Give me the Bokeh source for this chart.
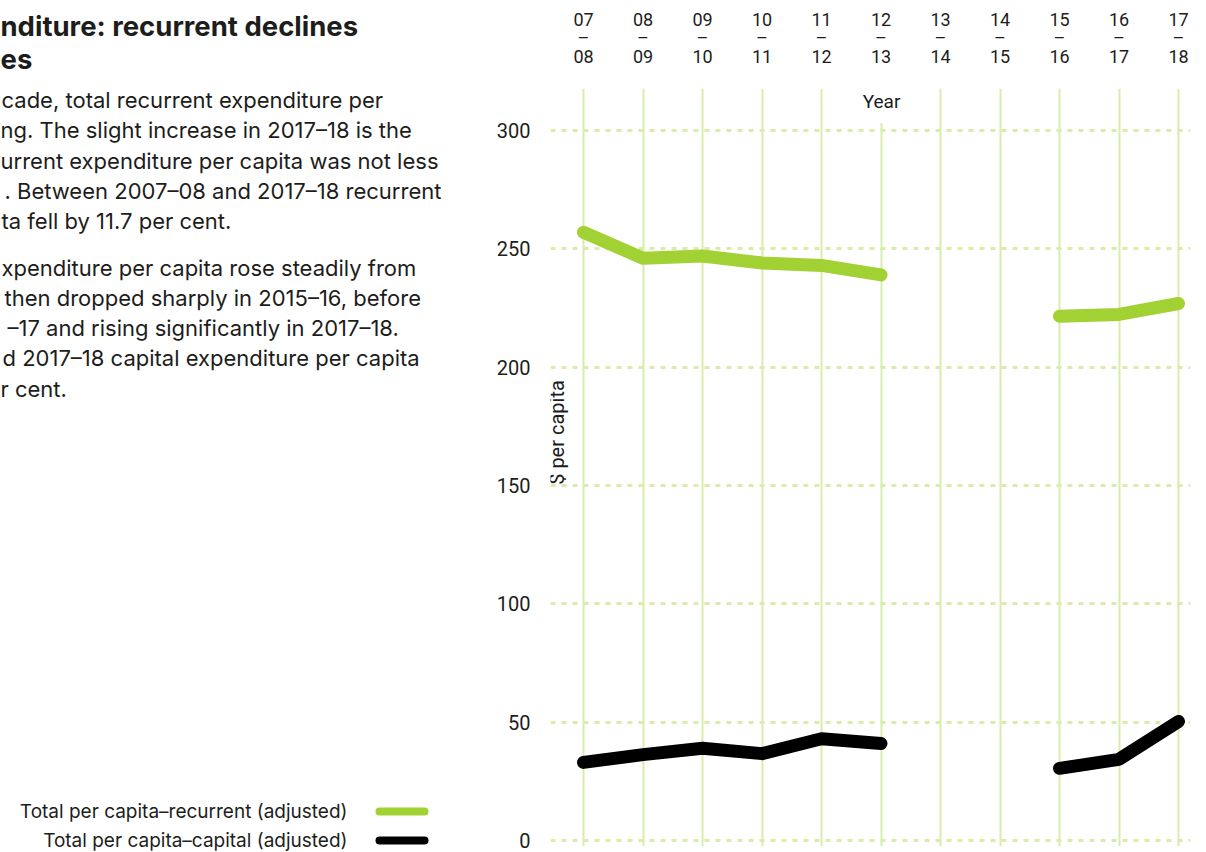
import math

import numpy as np
from bokeh.embed import file_html
from bokeh.layouts import row
from bokeh.models import ColumnDataSource, FixedTicker, Label, Range1d
from bokeh.plotting import figure
from bokeh.resources import INLINE

# ---- data -----------------------------------------------------------------
years = ["2007–08", "2008–09", "2009–10", "2010–11", "2011–12", "2012–13",
         "2013–14", "2014–15", "2015–16", "2016–17", "2017–18"]
# $ per capita; no figures were published for 2013–14 and 2014–15
recurrent = [257.0, 246.0, 247.0, 244.0, 243.0, 239.0,
             float("nan"), float("nan"), 221.5, 222.3, 226.9]
capital = [33.0, 36.3, 39.0, 36.7, 43.0, 41.0,
           float("nan"), float("nan"), 30.5, 34.3, 50.3]
y_ticks = [0, 50, 100, 150, 200, 250, 300]
year_tick_labels = [f"{y[2:4]}\n–\n{y[-2:]}" for y in years]
series_names = ["Total per capita–recurrent (adjusted)",
                "Total per capita–capital (adjusted)"]

heading = ["nditure: recurrent declines", "es"]
body = [
    "cade, total recurrent expenditure per",
    "ng. The slight increase in 2017–18 is the",
    "urrent expenditure per capita was not less",
    ". Between 2007–08 and 2017–18 recurrent",
    "ta fell by 11.7 per cent.",
    "xpenditure per capita rose steadily from",
    "then dropped sharply in 2015–16, before",
    "–17 and rising significantly in 2017–18.",
    "d 2017–18 capital expenditure per capita",
    "r cent.",
]

# ---- styling / page geometry ---------------------------------------------
FONT = "Roboto"
TEXT_FONT = "Inter"
INK = "#1d1d1b"
GREEN = "#a2d133"
GRID = "#d9ecab"
SERIES_COLORS = [GREEN, "black"]

W, H = 1206, 852
SPLIT = 470                                        # text panel | chart panel
LEFT, RIGHT, TOP, BOTTOM = 550, 1190, 88, 846      # chart frame on the page
X0_PX, X_STEP = 583, 59.5                          # first year column, spacing
Y0_PX, Y_SCALE = 840, 710 / 300                    # zero line, px per dollar
KEY_X0, KEY_X1, KEY_ROWS = 379, 424, [811, 840]    # legend key placement


def ux(px):
    return (px - X0_PX) / X_STEP


def uy(py):
    return (Y0_PX - py) / Y_SCALE


# ---- text panel (commentary + legend) -------------------------------------
side = figure(width=SPLIT, height=H, x_range=Range1d(0, SPLIT),
              y_range=Range1d(H, 0), x_axis_location=None,
              y_axis_location=None, output_backend="svg",
              toolbar_location=None, min_border=0)
side.frame_align = False
side.outline_line_color = None
side.grid.visible = False


def side_text(txt, px, py, size, bold=False, align="left"):
    side.add_layout(Label(x=px, y=py, text=txt, text_font=TEXT_FONT,
                          text_font_size=f"{size}px", text_color=INK,
                          text_font_style="bold" if bold else "normal",
                          text_align=align, text_baseline="middle"))


for txt, py in zip(heading, [25, 58]):
    side_text(txt, 0, py, 27.5, bold=True)
body_x = [1, 0, 0, 4, 1, 1, 4, 7, 2, 0]
body_y = [99, 129, 160, 190, 220, 267, 297, 327, 357, 388]
for txt, px, py in zip(body, body_x, body_y):
    side_text(txt, px, py, 22)

# legend: series names on the left, line keys on the right
for txt, py in zip(series_names, KEY_ROWS):
    side_text(txt, 347, py, 19, align="right")
side.segment(x0=[KEY_X0] * 2, x1=[KEY_X1] * 2, y0=KEY_ROWS, y1=KEY_ROWS,
             line_color=SERIES_COLORS, line_width=8, line_cap="round")

# ---- chart panel ------------------------------------------------------------
p = figure(width=W - SPLIT, height=H,
           x_range=Range1d(ux(LEFT), ux(RIGHT)),
           y_range=Range1d(uy(BOTTOM), uy(TOP)),
           x_axis_location="above",
           output_backend="svg", toolbar_location=None,
           min_border_left=LEFT - SPLIT, min_border_right=W - RIGHT,
           min_border_top=TOP, min_border_bottom=H - BOTTOM)
p.frame_align = False
p.outline_line_color = None
p.background_fill_color = "white"
p.border_fill_color = "white"

# axes
xaxis, yaxis = p.xaxis[0], p.yaxis[0]
xaxis.ticker = FixedTicker(ticks=list(range(len(years))))
xaxis.major_label_overrides = {i: lab for i, lab in enumerate(year_tick_labels)}
xaxis.major_label_standoff = 16
xaxis.major_label_text_line_height = 0.88
xaxis.major_label_text_font_size = "18px"
yaxis.ticker = FixedTicker(ticks=y_ticks)
yaxis.major_label_standoff = 14
yaxis.major_label_text_font_size = "20px"
for ax in (xaxis, yaxis):
    ax.axis_line_color = None
    ax.major_tick_line_color = None
    ax.minor_tick_line_color = None
    ax.major_label_text_font = FONT
    ax.major_label_text_color = INK

# grid
p.xgrid.grid_line_color = GRID
p.xgrid.grid_line_width = 2
p.ygrid.grid_line_color = GRID
p.ygrid.grid_line_width = 3
p.ygrid.grid_line_dash = "5 6"

# series
src = ColumnDataSource(dict(
    x=np.arange(len(years)),
    year=years,
    recurrent=np.array(recurrent),
    capital=np.array(capital),
))
for col, color in zip(["recurrent", "capital"], SERIES_COLORS):
    p.line("x", col, source=src, line_color=color, line_width=13,
           line_cap="round", line_join="round")

# axis titles
p.add_layout(Label(x=ux(881), y=uy(101), text="Year", text_font=FONT,
                   text_font_size="19px", text_color=INK, text_align="center",
                   text_baseline="middle", background_fill_color="white",
                   padding=10))
p.add_layout(Label(x=ux(556), y=uy(432), text="$ per capita", text_font=FONT,
                   text_font_size="20px", text_color=INK, text_align="center",
                   text_baseline="middle", angle=math.pi / 2))

open("out.html", "w").write(file_html(row(side, p), INLINE))
